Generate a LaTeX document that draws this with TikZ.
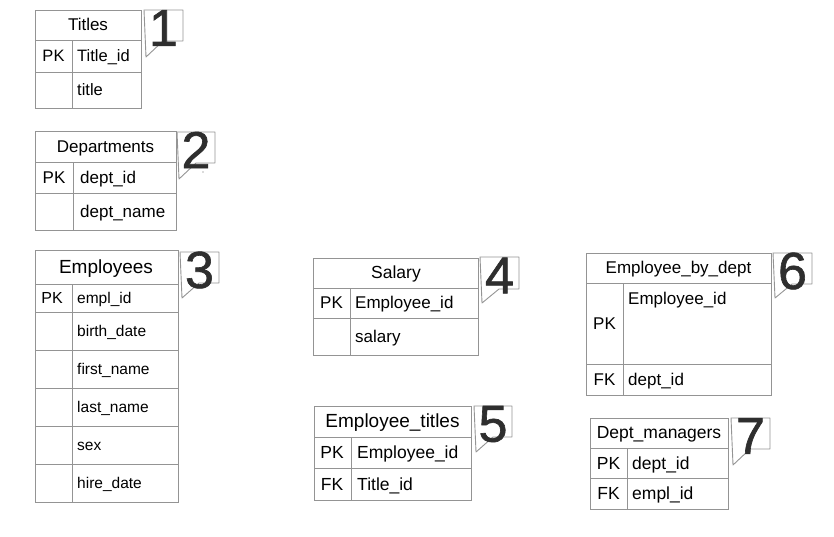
\documentclass[tikz,border=0pt]{standalone}
\usepackage{fontspec}
\setmainfont{Liberation Sans}
\newfontfamily\digitfont{Liberation Sans}[FakeBold=1.2]
\tikzset{
  grid/.style={draw=black!42, line width=0.9pt},
  callbox/.style={draw=black!42, line width=0.9pt, fill=white, line join=round},
  digit/.style={font=\digitfont\fontsize{52}{52}\selectfont, text=black!82, inner sep=0pt},
  hd/.style={font=\fontsize{#1}{#1}\selectfont, inner sep=0pt, text height=1.1em, text depth=0pt},
  fld/.style={font=\fontsize{#1}{#1}\selectfont, inner sep=0pt, anchor=west, text height=1.1em, text depth=0pt},
  key/.style={font=\fontsize{#1}{#1}\selectfont, inner sep=0pt, text height=1.1em, text depth=0pt},
}
% L, T, R, B, tip-y, digit
\newcommand\mycallout[6]{%
  \draw[callbox] (#1,#2) -- (#3,#2) -- (#3,#4) -- ({#1+19},#4) -- ({#1+2},#5) -- cycle;
  \node[digit] (num#6) at ({(#1+#3)/2},{(#2+#4)/2+2.5}) {#6};
}
\begin{document}
\begin{tikzpicture}[x=1pt,y=-1pt]
\useasboundingbox (0,0) rectangle (834,536);
\fill[white] (0,0) rectangle (834,536);

% ---------- 1 Titles ----------
\draw[grid] (35,10) rectangle (141,108);
\draw[grid] (35,40) -- (141,40) (35,72) -- (141,72) (72,40) -- (72,108);
\node[hd=17] (titles) at (88,25) {Titles};
\node[key=16.5] (titlespk) at (53.5,56) {PK};
\node[fld=16.5] (titleid) at (77,56) {Title\_id};
\node[fld=16.5] (titlet) at (77,90) {title};
\mycallout{144}{10}{183}{41}{57}{1}

% ---------- 2 Departments ----------
\draw[grid] (35,131) rectangle (176,230);
\draw[grid] (35,162) -- (176,162) (35,193) -- (176,193) (73,162) -- (73,230);
\node[hd=17] (depts) at (105.5,147) {Departments};
\node[key=17] (deptspk) at (54,177.5) {PK};
\node[fld=17] (deptid) at (80,177.5) {dept\_id};
\node[fld=17] (deptname) at (80,212) {dept\_name};
\mycallout{177}{132}{215}{163}{179}{2}
\fill[black!60] (203,172) circle (0.6);

% ---------- 3 Employees ----------
\draw[grid] (35,250) rectangle (178,502);
\draw[grid] (35,284) -- (178,284) (35,312) -- (178,312) (35,350) -- (178,350)
  (35,388) -- (178,388) (35,426) -- (178,426) (35,464) -- (178,464) (72,284) -- (72,502);
\node[hd=19] (emps) at (106,267.5) {Employees};
\node[key=16] (empspk) at (52,298) {PK};
\node[fld=15.5] (emplid) at (77,298) {empl\_id};
\node[fld=15.5] (birth) at (77,331) {birth\_date};
\node[fld=15.5] (first) at (77,369) {first\_name};
\node[fld=15.5] (last) at (77,407) {last\_name};
\node[fld=15.5] (sex) at (77,445) {sex};
\node[fld=15.5] (hire) at (77,483) {hire\_date};
\mycallout{180}{252}{219}{283}{298}{3}

% ---------- 4 Salary ----------
\draw[grid] (313,258) rectangle (478,355);
\draw[grid] (313,288) -- (478,288) (313,318) -- (478,318) (350,288) -- (350,355);
\node[hd=17.5] (salary) at (396,272.5) {Salary};
\node[key=17] (salpk) at (331.5,303) {PK};
\node[fld=17] (salemp) at (355,303) {Employee\_id};
\node[fld=17] (salsal) at (355,337) {salary};
\mycallout{480}{257}{519}{289}{303}{4}

% ---------- 5 Employee_titles ----------
\draw[grid] (314,406) rectangle (471,500);
\draw[grid] (314,437) -- (471,437) (314,468) -- (471,468) (351,437) -- (351,500);
\node[hd=19] (etitles) at (392.5,422) {Employee\_titles};
\node[key=17.5] (etpk) at (332,453) {PK};
\node[fld=17.5] (etemp) at (357,453) {Employee\_id};
\node[key=17.5] (etfk) at (332,484.5) {FK};
\node[fld=17.5] (ettid) at (357,484.5) {Title\_id};
\mycallout{474}{406}{512}{437}{452}{5}

% ---------- 6 Employee_by_dept ----------
\draw[grid] (586,253) rectangle (771,395);
\draw[grid] (586,283) -- (771,283) (586,364) -- (771,364) (623,283) -- (623,395);
\node[hd=17] (ebd) at (678.5,268) {Employee\_by\_dept};
\node[key=17] (ebdpk) at (604.5,324) {PK};
\node[fld=17] (ebdemp) at (628,298.5) {Employee\_id};
\node[key=17] (ebdfk) at (604.5,380) {FK};
\node[fld=17] (ebddept) at (628,380) {dept\_id};
\mycallout{773}{253}{812}{284}{298}{6}

% ---------- 7 Dept_managers ----------
\draw[grid] (590,418) rectangle (728,509);
\draw[grid] (590,448) -- (728,448) (590,478) -- (728,478) (627,448) -- (627,509);
\node[hd=17.5] (dm) at (659,433) {Dept\_managers};
\node[key=17.5] (dmpk) at (608.5,463.5) {PK};
\node[fld=17.5] (dmdept) at (632,463.5) {dept\_id};
\node[key=17.5] (dmfk) at (608.5,494) {FK};
\node[fld=17.5] (dmempl) at (632,494) {empl\_id};
\mycallout{731}{418}{770}{449}{465}{7}
\end{tikzpicture}
\end{document}
